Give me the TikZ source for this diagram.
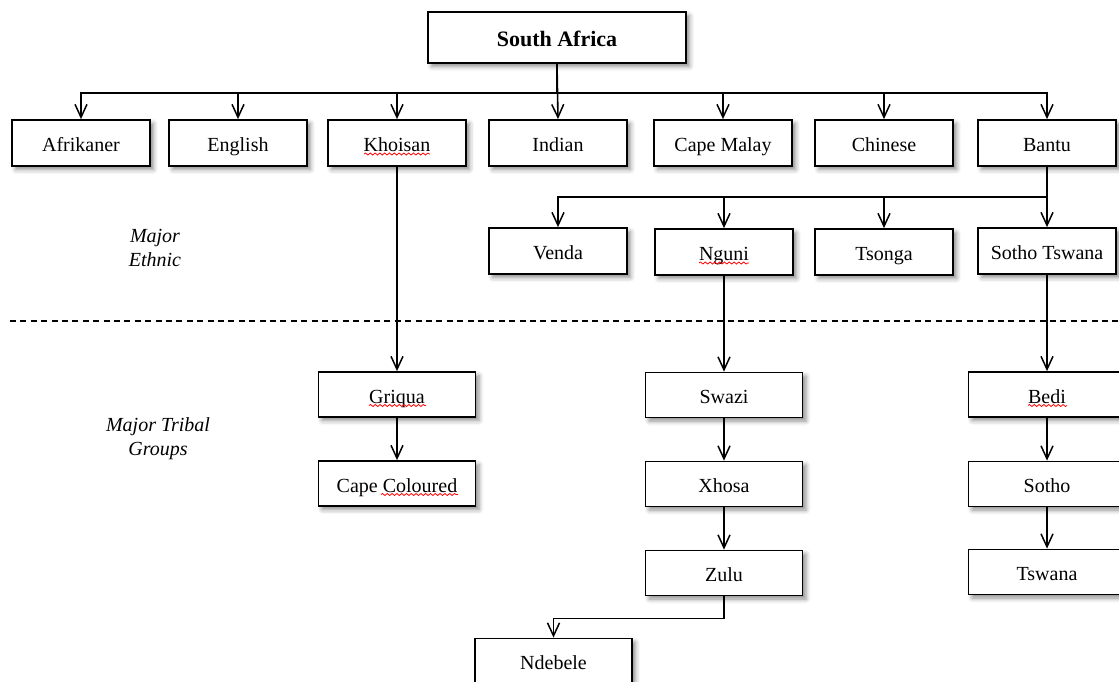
\documentclass[tikz,border=0pt]{standalone}
\usepackage{fontspec}
\setmainfont{Liberation Serif}
\usetikzlibrary{arrows.meta}
\usetikzlibrary{shadows.blur}
\usetikzlibrary{decorations.pathmorphing}
\usetikzlibrary{calc}

\tikzset{
  grp/.style={draw, line width=0.9pt, fill=white, minimum width=69pt, minimum height=23pt,
    text height=2ex, text depth=0.1ex,
    blur shadow={shadow xshift=1.8pt, shadow yshift=-1.8pt, shadow blur radius=2.2pt, shadow opacity=45}},
  tribe/.style={grp, minimum width=78.5pt, minimum height=22.5pt},
  arr/.style={-{Straight Barb[length=6.5pt,width=6pt,line width=0.75pt]}, line width=0.8pt},
  squig/.style={red, line width=0.4pt, decorate, decoration={snake, amplitude=0.5pt, segment length=2.4pt}}
}

\begin{document}
\begin{tikzpicture}[x=0.5pt,y=-0.5pt]
      \useasboundingbox (0,0) rectangle (1119,681);

      % top
      \node[grp, minimum width=129pt, minimum height=25.5pt, font=\fontsize{11}{13}\selectfont\bfseries] (sa) at (557,37.5) {South Africa};

      % major ethnic
      \node[grp] (afrikaner) at (81,143)   {Afrikaner};
      \node[grp] (english)   at (238,143)  {English};
      \node[grp] (khoisan)   at (397,143)  {Khoisan};
      \node[grp] (indian)    at (558,143)  {Indian};
      \node[grp] (capemalay) at (723,143)  {Cape Malay};
      \node[grp] (chinese)   at (884,143)  {Chinese};
      \node[grp] (bantu)     at (1047,143) {Bantu};

      \node[grp] (venda)       at (558,251)  {Venda};
      \node[grp] (nguni)       at (724,252)  {Nguni};
      \node[grp] (tsonga)      at (884,252)  {Tsonga};
      \node[grp] (sothotswana) at (1047,251) {Sotho Tswana};

      % major tribal groups
      \node[tribe] (griqua)   at (397,394.5) {Griqua};
      \node[tribe] (coloured) at (397,483.5) {Cape Coloured};
      \node[tribe] (swazi)    at (724,395)   {Swazi};
      \node[tribe] (xhosa)    at (724,484)   {Xhosa};
      \node[tribe] (zulu)     at (724,573)   {Zulu};
      \node[tribe] (ndebele)  at (553.5,661) {Ndebele};
      \node[tribe] (bedi)     at (1047,394.5) {Bedi};
      \node[tribe] (sotho)    at (1047,484)  {Sotho};
      \node[tribe] (tswana)   at (1047,572)  {Tswana};

      % side labels
      \node[font=\itshape, align=center] (ethnic_lab) at (155,248) {Major\\Ethnic};
      \node[font=\itshape, align=center] (tribal_lab) at (158,439) {Major Tribal\\Groups};

      \draw[line width=0.6pt, dash pattern=on 3pt off 2.2pt] (10,321) -- (1119,321);

      % spelling marks
      \draw[squig] ($(khoisan)+(-33,11)$) -- ++(66,0);
      \draw[squig] ($(nguni)+(-25,11)$) -- ++(50,0);
      \draw[squig] ($(griqua)+(-28,11)$) -- ++(57,0);
      \draw[squig] ($(coloured)+(-16,11)$) -- ++(77,0);
      \draw[squig] ($(bedi)+(-19,11)$) -- ++(39,0);

      \draw[arr] (sa.south) -- ++(0,29) -| (afrikaner.north);
      \draw[arr] (sa.south) -- ++(0,29) -| (english.north);
      \draw[arr] (sa.south) -- ++(0,29) -| (khoisan.north);
      \draw[arr] (sa.south) -- (indian.north);
      \draw[arr] (sa.south) -- ++(0,29) -| (capemalay.north);
      \draw[arr] (sa.south) -- ++(0,29) -| (chinese.north);
      \draw[arr] (sa.south) -- ++(0,29) -| (bantu.north);

      \draw[arr] (bantu.south) -- ++(0,30) -| (venda.north);
      \draw[arr] (bantu.south) -- ++(0,30) -| (nguni.north);
      \draw[arr] (bantu.south) -- ++(0,30) -| (tsonga.north);
      \draw[arr] (bantu.south) -- (sothotswana.north);

      \draw[arr] (khoisan.south) -- (griqua.north);
      \draw[arr] (griqua.south) -- (coloured.north);
      \draw[arr] (nguni.south) -- (swazi.north);
      \draw[arr] (swazi.south) -- (xhosa.north);
      \draw[arr] (xhosa.south) -- (zulu.north);
      \draw[arr] (zulu.south) -- ++(0,22) -| (ndebele.north);
      \draw[arr] (sothotswana.south) -- (bedi.north);
      \draw[arr] (bedi.south) -- (sotho.north);
      \draw[arr] (sotho.south) -- (tswana.north);
  \end{tikzpicture}
\end{document}
